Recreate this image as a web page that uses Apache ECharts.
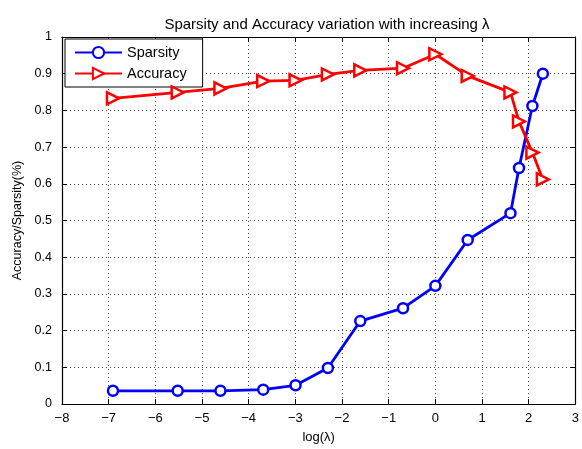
<!DOCTYPE html>
<html>
<head>
<meta charset="utf-8">
<script src="https://cdn.jsdelivr.net/npm/echarts@6/dist/echarts.min.js"></script>
<style>
  html, body { margin: 0; padding: 0; background: #fff; }
  #chart { width: 582px; height: 449px; }
</style>
</head>
<body>
<div id="chart"></div>
<script>
// log(lambda) sample positions
const logLambda = [-6.908, -5.521, -4.605, -3.689, -2.996, -2.303, -1.609, -0.693, 0, 0.693, 1.609, 1.792, 2.079, 2.303];
// Sparsity at each lambda
const sparsity = [0.036, 0.036, 0.036, 0.039, 0.051, 0.098, 0.226, 0.261, 0.322, 0.447, 0.520, 0.643, 0.812, 0.900];
// Accuracy at each lambda
const accuracy = [0.833, 0.849, 0.860, 0.880, 0.882, 0.898, 0.909, 0.915, 0.953, 0.894, 0.849, 0.770, 0.685, 0.612];

const FONT = 'Liberation Sans';

function pairs(xs, ys) {
  return xs.map((x, i) => [x, ys[i]]);
}

const chart = echarts.init(document.getElementById('chart'), null, { renderer: 'canvas' });

const gridLine = { show: true, lineStyle: { color: '#444', type: [1, 3], width: 1 } };
const tickIn = { show: true, inside: true, length: 5, lineStyle: { color: '#000', width: 1 } };
const axisLine = { show: true, onZero: false, lineStyle: { color: '#000', width: 1.2 } };

chart.setOption({
  animation: false,
  backgroundColor: '#fff',
  textStyle: { fontFamily: FONT },
  title: {
    text: 'Sparsity and Accuracy variation with increasing λ',
    left: 322, textAlign: 'center', top: 12,
    textStyle: { fontFamily: FONT, fontSize: 15, fontWeight: 'normal', color: '#000' }
  },
  legend: {
    left: 65, top: 39,
    orient: 'vertical',
    backgroundColor: '#fff',
    borderColor: '#000', borderWidth: 1,
    padding: [6, 16, 6, 9],
    itemGap: 6,
    itemWidth: 47, itemHeight: 14,
    textStyle: { fontFamily: FONT, fontSize: 14.5, color: '#000' },
    data: ['Sparsity', 'Accuracy']
  },
  grid: { left: 62, top: 37, width: 517, height: 373, containLabel: false },
  xAxis: [{
    type: 'value', min: -8, max: 3, interval: 1,
    name: 'log(λ)', nameLocation: 'middle', nameGap: 27,
    nameTextStyle: { fontFamily: FONT, fontSize: 13, color: '#000' },
    axisLine: axisLine, axisTick: tickIn, splitLine: gridLine,
    axisLabel: {
      color: '#000', fontSize: 13, fontFamily: FONT, margin: 8,
      formatter: v => (v < 0 ? '\u2212' + Math.abs(v) : String(v))
    }
  }, {
    type: 'value', min: -8, max: 3, interval: 1, position: 'top',
    axisLine: axisLine, axisTick: tickIn, splitLine: { show: false },
    axisLabel: { show: false }
  }],
  yAxis: [{
    type: 'value', min: 0, max: 1, interval: 0.1,
    name: 'Accuracy/Sparsity(%)', nameLocation: 'middle', nameGap: 38,
    nameTextStyle: { fontFamily: FONT, fontSize: 12.5, color: '#000' },
    axisLine: axisLine, axisTick: tickIn, splitLine: gridLine,
    axisLabel: {
      color: '#000', fontSize: 12.5, fontFamily: FONT, margin: 10,
      formatter: v => String(Math.round(v * 10) / 10)
    }
  }, {
    type: 'value', min: 0, max: 1, interval: 0.1, position: 'right',
    axisLine: axisLine, axisTick: tickIn, splitLine: { show: false },
    axisLabel: { show: false }
  }],
  series: [{
    name: 'Sparsity',
    type: 'line',
    data: pairs(logLambda, sparsity),
    color: '#0000ff',
    lineStyle: { color: '#0000ff', width: 2.8 },
    symbol: 'circle', symbolSize: 10,
    itemStyle: { color: '#fff', borderColor: '#0000ff', borderWidth: 2.5 },
    z: 3
  }, {
    name: 'Accuracy',
    type: 'line',
    data: pairs(logLambda, accuracy),
    color: '#ff0000',
    lineStyle: { color: '#ff0000', width: 2.8 },
    symbol: 'triangle', symbolSize: 12, symbolRotate: -90,
    itemStyle: { color: '#fff', borderColor: '#ff0000', borderWidth: 2.5 },
    z: 4
  }]
});
</script>
</body>
</html>
